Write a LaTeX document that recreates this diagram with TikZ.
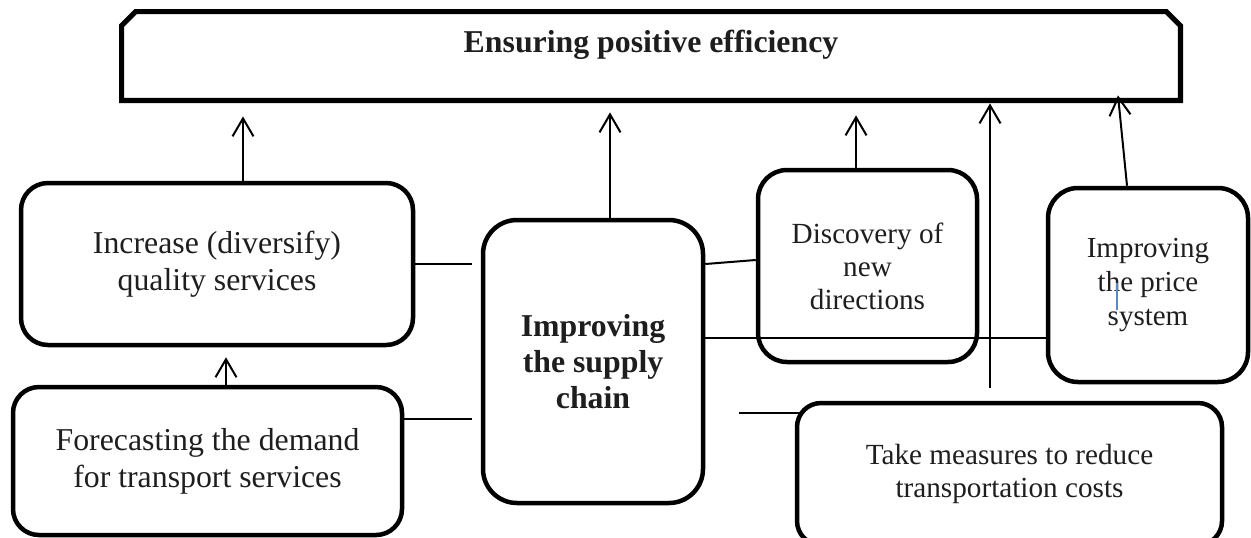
\documentclass[tikz,border=0pt]{standalone}
\usepackage{fontspec}
\setmainfont{Liberation Serif}
\usetikzlibrary{arrows.meta,calc}
\definecolor{cursorblue}{RGB}{91,134,201}
\definecolor{txt}{RGB}{30,30,30}
\begin{document}
\begin{tikzpicture}[x=0.5pt,y=-0.5pt]
\tikzset{
  box/.style={draw=black, line width=2.25pt, rounded corners=#1, inner sep=0pt, align=center, text=txt},
  box/.default=14pt,
  bigtext/.style={font=\fontsize{15.9pt}{18.5pt}\selectfont},
  boldtext/.style={font=\bfseries\fontsize{15.9pt}{18pt}\selectfont},
  smalltext/.style={font=\fontsize{14.6pt}{16.5pt}\selectfont},
  thinline/.style={line width=1pt},
  arr/.style={line width=1pt, -{Straight Barb[length=9pt,width=10.5pt]}},
}
\useasboundingbox (0,0) rectangle (1251,537);
\clip (0,0) rectangle (1251,537);

% top box
\node[minimum width=529pt, minimum height=44pt, inner sep=0pt] (top) at (651,56) {};
\draw[line width=2.6pt, line join=miter] (top.south west) -- ([yshift=-7pt]top.north west) -- ([xshift=7pt]top.north west) -- ([xshift=-7pt]top.north east) -- ([yshift=-7pt]top.north east) -- (top.south east) -- cycle;
\node[boldtext, text=txt, anchor=base, inner sep=0pt] (title) at (651,52) {Ensuring positive efficiency};

% boxes
\node[box=13.5pt, bigtext, minimum width=196pt, minimum height=81pt] (inc) at (217,264) {Increase (diversify)\\quality services};
\node[box=13pt, bigtext, minimum width=194.5pt, minimum height=74pt] (fc) at (207.5,461) {Forecasting the demand\\for transport services};
\node[box=17pt, boldtext, minimum width=110pt, minimum height=141.5pt] (sup) at (593,361.5) {Improving\\the supply\\chain};
\node[box=14.5pt, smalltext, minimum width=109.5pt, minimum height=96pt] (dis) at (867.5,266) {Discovery of\\new\\directions};
\node[box=15pt, font=\fontsize{14.5pt}{17pt}\selectfont, minimum width=100pt, minimum height=97pt] (price) at (1148,285) {Improving\\the price\\system};
\node[box=12pt, smalltext, minimum width=212.5pt, minimum height=71pt] (take) at (1009.5,474) {Take measures to reduce\\transportation costs};

% arrows to the top box
\draw[arr, shorten >=8pt] ([xshift=13pt]inc.north) -- ([xshift=13pt]inc.north |- top.south);
\draw[arr, shorten >=6pt] ([xshift=8.5pt]sup.north) -- ([xshift=8.5pt]sup.north |- top.south);
\draw[arr, shorten >=7.5pt] ([xshift=-5.75pt]dis.north) -- ([xshift=-5.75pt]dis.north |- top.south);
\coordinate (a4s) at ([xshift=-9.75pt,yshift=6.5pt]take.north);
\draw[arr, shorten >=1.5pt] (a4s) -- (a4s |- top.south);
\draw[arr] ([xshift=-10.5pt]price.north) -- ([xshift=233.5pt,yshift=2.5pt]top.south);
\draw[arr, shorten >=5pt] ([xshift=9.25pt]fc.north) -- ([xshift=9.25pt]fc.north |- inc.south);

% plain connecting lines
\draw[thinline, shorten >=4.5pt] ([yshift=0pt]inc.east) -- ([yshift=0pt]inc.east -| sup.west);
\draw[thinline, shorten >=4.5pt] ([yshift=21pt]fc.east) -- ([yshift=21pt]fc.east -| sup.west);
\draw[thinline] ([yshift=48.75pt]sup.east) -- ([yshift=3pt]dis.west);
\draw[thinline] ([yshift=11.75pt]sup.east) -- ([yshift=11.75pt]sup.east -| price.west);
\draw[thinline, shorten <=17pt] ([yshift=30.5pt]take.west -| sup.east) -- ([yshift=30.5pt,xshift=3pt]take.west);

% text cursor mark
\draw[line width=0.8pt, cursorblue] (1117,283) -- (1117,310);
\end{tikzpicture}
\end{document}
